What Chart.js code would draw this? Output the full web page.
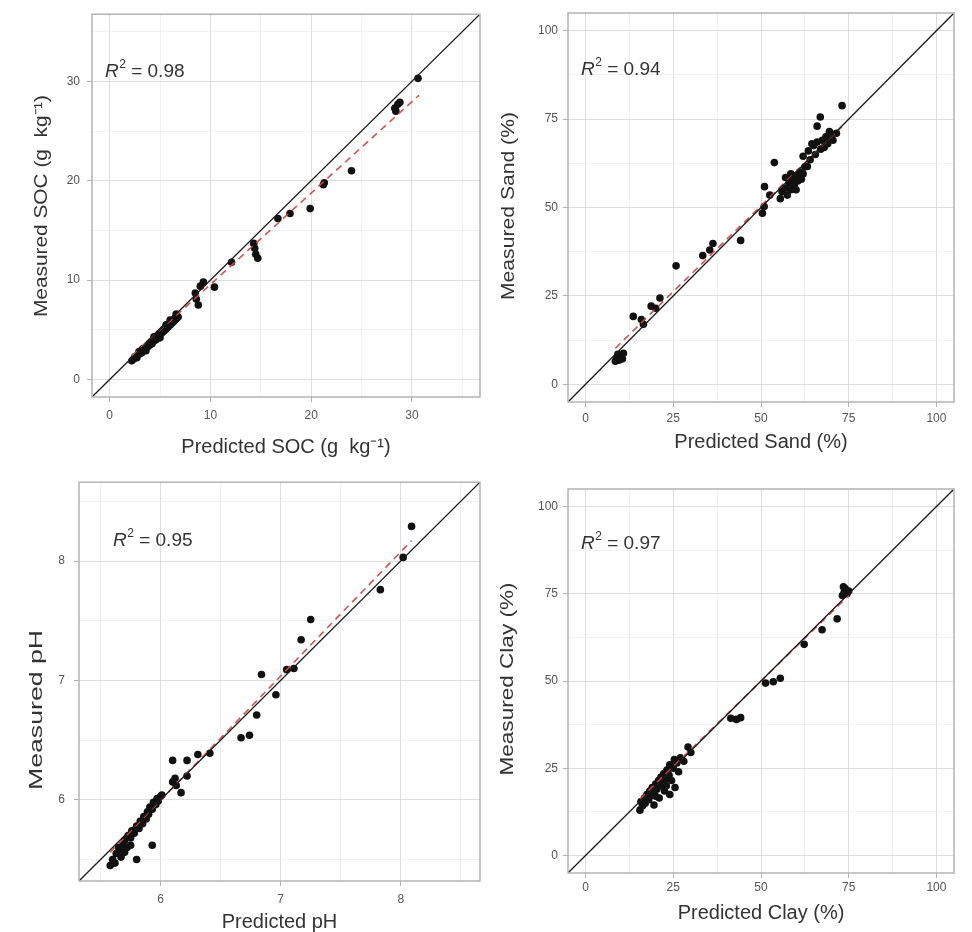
<!DOCTYPE html>
<html><head><meta charset="utf-8">
<script src="https://cdn.jsdelivr.net/npm/chart.js@4.4.1/dist/chart.umd.min.js"></script>
<style>
html,body{margin:0;padding:0;background:#fff;}
#wrap{position:relative;width:972px;height:932px;overflow:hidden;background:#fff;}
canvas{position:absolute;}
</style></head><body>
<div id="wrap">
<canvas id="c1" width="486" height="466" style="left:0;top:0"></canvas>
<canvas id="c2" width="486" height="466" style="left:486px;top:0"></canvas>
<canvas id="c3" width="486" height="466" style="left:0;top:466px"></canvas>
<canvas id="c4" width="486" height="466" style="left:486px;top:466px"></canvas>
</div>
<script>
// ---------- DATA ----------
// SOC (g kg-1)
const socPred = [2.2,2.4,2.5,2.7,2.8,3.0,3.1,3.2,3.4,3.5,3.6,3.7,3.8,3.9,4.0,4.1,4.2,4.3,4.4,4.5,4.6,4.7,4.8,4.9,5.0,5.1,5.2,5.3,5.4,5.5,5.6,5.7,5.8,5.9,6.0,6.1,6.2,6.3,6.4,6.5,6.6,6.7,6.8,3.3,4.4,5.6,6.0,2.9,5.0,6.6,8.5,8.8,8.6,9.3,9.0,10.4,12.1,14.3,14.4,14.7,14.5,16.7,17.9,19.9,21.2,21.3,24.0,28.3,28.6,28.8,28.4,30.6];
const socMeas = [1.9,2.1,2.3,2.2,2.5,2.6,2.9,2.7,3.0,3.2,2.9,3.4,3.3,3.6,3.5,3.8,3.6,4.0,3.9,4.2,4.0,4.4,4.3,4.6,4.5,4.8,4.7,5.0,4.9,5.2,5.1,5.4,5.3,5.6,5.5,5.8,5.7,6.0,5.9,6.2,6.1,6.4,6.3,3.1,4.3,5.5,6.0,2.8,4.2,6.6,8.7,7.5,8.1,9.8,9.4,9.3,11.8,13.7,13.2,12.2,12.6,16.2,16.7,17.2,19.6,19.8,21.0,27.3,27.7,27.9,27.0,30.3];
const socFitX = [2.2, 30.7];
const socFitY = [2.4, 28.6];

// Sand (%)
const sandPred = [8.5,9.0,9.5,10.0,10.5,9.2,10.8,8.8,13.6,15.9,16.5,18.7,21.2,20.0,25.8,33.4,35.4,36.3,44.2,50.4,50.9,51.0,52.5,53.8,55.5,56.0,57.0,57.5,58.0,58.5,59.0,59.5,60.0,60.5,61.0,61.5,62.0,62.5,57.0,58.5,60.0,63.2,62.0,63.5,64.0,65.0,65.5,66.0,67.0,67.5,68.0,68.5,69.0,70.0,70.5,71.5,64.5,66.0,66.9,73.1,69.5];
const sandMeas = [6.5,7.5,6.8,8.0,7.2,8.5,8.8,7.0,19.2,18.3,17.0,22.1,24.4,21.5,33.5,36.4,38.0,39.8,40.7,48.4,50.3,55.9,53.5,62.7,52.5,54.5,55.5,53.5,57.0,55.0,58.0,56.5,59.0,57.5,60.0,58.0,59.5,61.5,58.5,59.5,55.0,61.6,64.5,66.0,63.5,67.5,65.0,68.5,66.5,69.0,67.0,70.0,68.0,70.5,69.0,71.0,68.0,73.0,75.6,78.8,71.5];
const sandFitX = [8.5, 73.1];
const sandFitY = [10.2, 72.9];

// pH
const phPred = [5.58,5.60,5.62,5.63,5.65,5.67,5.68,5.70,5.72,5.73,5.75,5.76,5.78,5.80,5.80,5.82,5.83,5.85,5.86,5.88,5.89,5.90,5.91,5.93,5.93,5.94,5.96,5.97,5.98,6.00,6.01,5.70,5.75,5.66,6.10,6.10,6.12,6.13,6.17,6.22,6.22,6.31,6.41,6.67,6.74,6.80,6.84,6.96,7.05,7.11,7.17,7.25,7.83,8.02,8.09];
const phMeas = [5.45,5.50,5.47,5.55,5.60,5.52,5.62,5.66,5.60,5.70,5.68,5.74,5.72,5.50,5.78,5.76,5.82,5.80,5.86,5.84,5.90,5.88,5.94,5.62,5.92,5.98,5.96,6.01,5.99,6.03,6.04,5.56,5.62,5.58,6.33,6.15,6.18,6.12,6.06,6.33,6.20,6.38,6.39,6.52,6.54,6.71,7.05,6.88,7.09,7.10,7.34,7.51,7.76,8.03,8.29];
const phFitX = [5.58, 8.09];
const phFitY = [5.56, 8.17];

// Clay (%)
const clayPred = [15.5,15.8,16.2,16.8,17.0,17.5,18.0,18.3,18.8,19.0,19.5,19.5,20.0,20.3,20.8,21.0,21.2,21.5,22.0,22.3,22.5,23.0,23.2,23.8,24.0,24.5,25.0,25.3,25.5,26.0,26.5,27.0,28.0,29.2,30.0,24.0,23.0,20.0,41.4,43.0,44.2,51.3,53.5,55.5,62.3,67.4,71.7,73.2,73.7,74.0,74.5,73.5,75.0];
const clayMeas = [13.0,15.5,14.2,16.5,15.0,17.5,16.0,18.5,17.2,19.5,14.5,18.0,20.5,19.0,21.5,16.5,20.0,22.5,21.0,23.5,18.5,22.0,24.5,23.0,26.0,21.5,25.0,27.5,19.5,26.5,24.0,28.0,27.0,31.1,29.5,17.5,20.0,17.0,39.3,39.0,39.5,49.4,49.8,50.8,60.5,64.7,67.8,74.5,75.4,76.5,75.0,77.0,75.8];
const clayFitX = [15.5, 75.0];
const clayFitY = [16.2, 74.5];

// axis limits and tick labels
const socLimits = [-1.75, 36.75];
const socTicks = [0,5,10,15,20,25,30,35];
const socTickLabels = [0,10,20,30];
const pctLimits = [-5, 105];
const pctTicks = [0,12.5,25,37.5,50,62.5,75,87.5,100];
const pctTickLabels = [0,25,50,75,100];
const phLimits = [5.32, 8.66];
const phTicks = [5.5,6,6.5,7,7.5,8,8.5];
const phTickLabels = [6,7,8];

const r2Values = ['0.98','0.94','0.95','0.97'];
const xTitles = ['Predicted SOC (g  kg\u207B\u00B9)','Predicted Sand (%)','Predicted pH','Predicted Clay (%)'];
const yTitles = ['Measured SOC (g  kg\u207B\u00B9)','Measured Sand (%)','Measured pH','Measured Clay (%)'];

// ---------- RENDER ----------
Chart.defaults.font.family = '"Liberation Sans", Arial, Helvetica, sans-serif';

const FONT = '"Liberation Sans", Arial, Helvetica, sans-serif';
const deco = {
  id: 'panelDeco',
  afterDraw(chart, args, o) {
    const {ctx, chartArea: a} = chart;
    ctx.save();
    ctx.strokeStyle = '#b3b3b3';
    ctx.lineWidth = 1.5;
    ctx.strokeRect(a.left, a.top, a.right - a.left, a.bottom - a.top);
    // y title (stretched to match source)
    ctx.fillStyle = '#333';
    ctx.font = '19px ' + FONT;
    ctx.translate(o.yx, o.yy);
    ctx.rotate(-Math.PI / 2);
    const w = ctx.measureText(o.yText).width;
    ctx.scale(o.yLen / w, 1);
    ctx.textAlign = 'center';
    ctx.textBaseline = 'middle';
    ctx.fillText(o.yText, 0, 0);
    ctx.restore();
    // R2 label
    ctx.save();
    ctx.fillStyle = '#333';
    ctx.textBaseline = 'middle';
    ctx.textAlign = 'left';
    let x = o.rx;
    ctx.font = 'italic 19px ' + FONT;
    ctx.fillText('R', x, o.ry);
    x += ctx.measureText('R').width + 0.5;
    ctx.font = '12px ' + FONT;
    ctx.fillText('2', x, o.ry - 7);
    x += ctx.measureText('2').width;
    ctx.font = '19px ' + FONT;
    ctx.fillText(' = ' + o.r2, x, o.ry);
    ctx.restore();
  }
};

function makePanel(cfg) {
  const pts = cfg.pred.map((x, i) => ({x, y: cfg.meas[i]}));
  const fit = cfg.fitX.map((x, i) => ({x, y: cfg.fitY[i]}));
  const one = [{x: cfg.lim[0], y: cfg.lim[0]}, {x: cfg.lim[1], y: cfg.lim[1]}];
  const isMajor = v => cfg.labels.some(m => Math.abs(m - v) < 1e-9);
  const axis = (tickPad) => ({
    type: 'linear',
    min: cfg.lim[0], max: cfg.lim[1],
    afterBuildTicks: s => { s.ticks = cfg.ticks.map(v => ({value: v})); },
    ticks: {
      callback: v => isMajor(v) ? String(v) : '',
      color: '#555', font: {size: 12}, padding: tickPad,
      autoSkip: false, maxRotation: 0, minRotation: 0
    },
    grid: {
      color: c => (c.tick && isMajor(c.tick.value)) ? '#dedede' : '#ececec',
      lineWidth: c => (c.tick && isMajor(c.tick.value)) ? 1 : 0.7,
      tickColor: c => (c.tick && isMajor(c.tick.value)) ? '#b3b3b3' : 'rgba(0,0,0,0)',
      tickLength: 5, tickWidth: 1, drawTicks: true
    },
    border: {display: false}
  });
  const xAxis = Object.assign(axis(cfg.xTickPad), {
    position: 'bottom',
    title: {display: true, text: cfg.xTitle, color: '#333',
            font: {size: 20, lineHeight: 1}, padding: {top: 0, bottom: cfg.xTitlePad}},
    afterFit: s => { s.height = cfg.xAxisH; }
  });
  const yAxis = Object.assign(axis(cfg.yTickPad), {
    position: 'left',
    afterFit: s => { s.width = cfg.yAxisW; }
  });
  new Chart(document.getElementById(cfg.id), {
    type: 'scatter',
    data: {datasets: [
      {data: pts, pointRadius: 3.8, pointBackgroundColor: '#111', pointBorderWidth: 0, showLine: false, order: 3},
      {data: fit, showLine: true, borderColor: 'rgba(214,72,72,0.95)', borderWidth: 1.6, borderDash: [7, 5], pointRadius: 0, order: 2},
      {data: one, showLine: true, borderColor: '#1a1a1a', borderWidth: 1.3, pointRadius: 0, order: 1}
    ]},
    options: {
      responsive: false, animation: false, events: [],
      layout: {padding: {left: 0, top: cfg.padTop, right: cfg.padRight, bottom: 0}},
      plugins: {
        legend: {display: false}, tooltip: {enabled: false},
        panelDeco: {yText: cfg.yTitle, yx: cfg.yx, yy: cfg.yy, yLen: cfg.yLen, rx: cfg.rx, ry: cfg.ry, r2: cfg.r2}
      },
      scales: {x: xAxis, y: yAxis}
    },
    plugins: [deco]
  });
}

makePanel({id: 'c1', pred: socPred, meas: socMeas, fitX: socFitX, fitY: socFitY,
  lim: socLimits, ticks: socTicks, labels: socTickLabels,
  xTitle: xTitles[0], yTitle: yTitles[0], r2: r2Values[0],
  padTop: 8, padRight: 6, yAxisW: 92, xAxisH: 69, xTickPad: 6, yTickPad: 7, xTitlePad: 9,
  yx: 42, yy: 206, yLen: 222, rx: 105, ry: 72});
makePanel({id: 'c2', pred: sandPred, meas: sandMeas, fitX: sandFitX, fitY: sandFitY,
  lim: pctLimits, ticks: pctTicks, labels: pctTickLabels,
  xTitle: xTitles[1], yTitle: yTitles[1], r2: r2Values[1],
  padTop: 13, padRight: 18, yAxisW: 82, xAxisH: 64, xTickPad: 4, yTickPad: 5, xTitlePad: 14,
  yx: 23, yy: 206, yLen: 188, rx: 95, ry: 70});
makePanel({id: 'c3', pred: phPred, meas: phMeas, fitX: phFitX, fitY: phFitY,
  lim: phLimits, ticks: phTicks, labels: phTickLabels,
  xTitle: xTitles[2], yTitle: yTitles[2], r2: r2Values[2],
  padTop: 13, padRight: 6, yAxisW: 79, xAxisH: 51, xTickPad: 6, yTickPad: 9, xTitlePad: 0,
  yx: 37, yy: 244, yLen: 160, rx: 113, ry: 75});
makePanel({id: 'c4', pred: clayPred, meas: clayMeas, fitX: clayFitX, fitY: clayFitY,
  lim: pctLimits, ticks: pctTicks, labels: pctTickLabels,
  xTitle: xTitles[3], yTitle: yTitles[3], r2: r2Values[3],
  padTop: 23, padRight: 18, yAxisW: 82, xAxisH: 59, xTickPad: 2, yTickPad: 5, xTitlePad: 9,
  yx: 22, yy: 213, yLen: 193, rx: 95, ry: 78});
</script>
</body></html>
